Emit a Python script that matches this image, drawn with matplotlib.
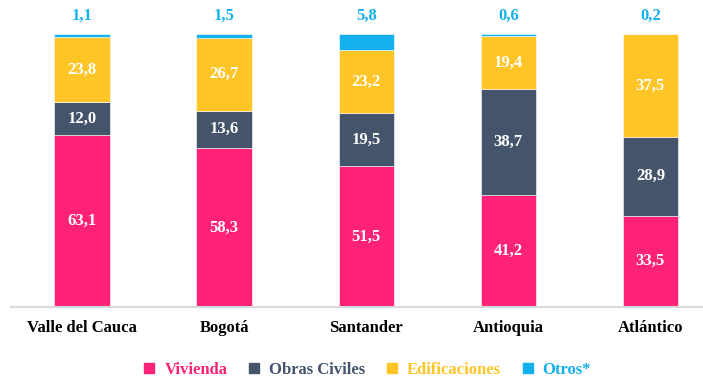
import matplotlib.pyplot as plt
from matplotlib.lines import Line2D

regiones = ["Valle del Cauca", "Bogotá", "Santander", "Antioquia", "Atlántico"]
vivienda = [63.1, 58.3, 51.5, 41.2, 33.5]
obras_civiles = [12.0, 13.6, 19.5, 38.7, 28.9]
edificaciones = [23.8, 26.7, 23.2, 19.4, 37.5]
otros = [1.1, 1.5, 5.8, 0.6, 0.2]

series = [("Vivienda", vivienda, "#FF2277"),
          ("Obras Civiles", obras_civiles, "#44546A"),
          ("Edificaciones", edificaciones, "#FFC425"),
          ("Otros*", otros, "#12B0EC")]

plt.rcParams['font.family'] = ['Liberation Serif', 'DejaVu Serif']
plt.rcParams['font.weight'] = 'bold'

fig = plt.figure(figsize=(7.03, 3.82), dpi=100)
ax = fig.add_axes([11 / 703, 75 / 382, 1 - 11 / 703, 1 - 75 / 382])

x = list(range(len(regiones)))
bottom = [0.0] * len(regiones)
for name, vals, color in series:
    ax.bar(x, vals, width=0.39, bottom=bottom, color=color, edgecolor="white", linewidth=0.4)
    for i, v in enumerate(vals):
        if name == "Otros*":
            ax.text(i, 100 + 6.6, f"{v:.1f}".replace(".", ","), ha="center", va="center",
                    color=color, fontsize=12, fontweight="bold")
        else:
            ax.text(i, bottom[i] + v / 2, f"{v:.1f}".replace(".", ","), ha="center", va="center",
                    color="white", fontsize=12, fontweight="bold")
    bottom = [b + v for b, v in zip(bottom, vals)]

ax.set_xlim(-0.5, 4.37)
ax.set_ylim(0, 112.5)
ax.set_xticks(x)
ax.set_xticklabels(regiones, fontsize=12, fontweight="bold")
ax.tick_params(axis="x", length=0, pad=9)
ax.set_yticks([])
for s in ["top", "right", "left"]:
    ax.spines[s].set_visible(False)
ax.spines["bottom"].set_color("#D9D9D9")
ax.spines["bottom"].set_linewidth(1.5)

handles = [Line2D([], [], marker="s", linestyle="", markersize=7.5, color=c) for _, _, c in series]
leg = fig.legend(handles, [n for n, _, _ in series], loc="center", ncol=4,
                 bbox_to_anchor=(0.522, 12 / 382), frameon=False, fontsize=12,
                 handlelength=0.8, handletextpad=0.5, columnspacing=1.2)
for t, (_, _, c) in zip(leg.get_texts(), series):
    t.set_color(c)

fig.savefig("out.png", dpi=100)
